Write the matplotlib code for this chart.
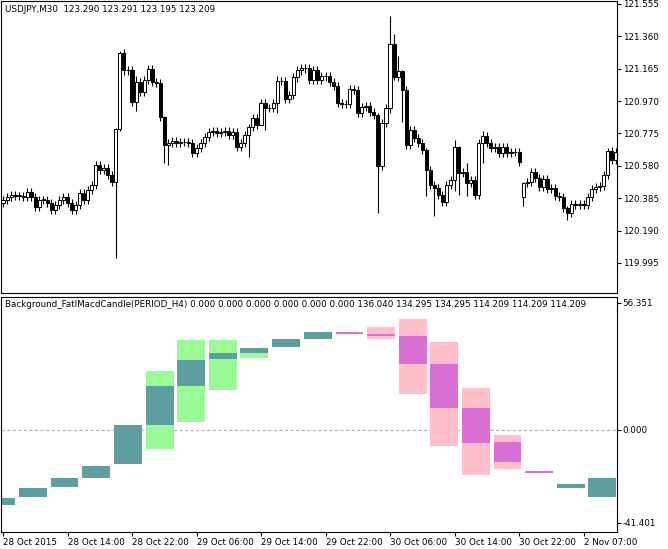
import matplotlib
matplotlib.use("Agg")
import matplotlib.pyplot as plt
from matplotlib.patches import Rectangle

closes = [120.375,120.393,120.405,120.399,120.399,120.393,120.423,120.393,
120.333,120.375,120.375,120.357,120.315,120.345,120.375,120.393,120.357,120.315,120.345,
120.417,120.375,120.435,120.465,120.585,120.555,120.567,120.525,120.483,
120.801,121.257,121.155,121.155,120.963,121.083,121.023,121.095,121.161,121.083,121.077,120.873,120.705,
120.717,120.729,120.717,120.723,120.723,120.717,120.657,120.687,120.717,120.753,120.783,120.789,
120.777,120.783,120.789,120.765,120.783,120.693,120.717,120.765,120.813,120.867,120.825,120.957,
120.927,120.927,120.957,121.089,121.089,120.981,121.005,121.113,121.155,121.167,121.167,121.095,121.155,121.095,121.119,121.119,
121.083,121.059,120.957,120.951,120.951,121.041,121.035,120.897,120.933,120.939,120.903,120.885,120.579,120.837,120.927,121.311,121.113,121.149,121.035,120.705,120.795,120.747,120.717,120.675,120.555,120.465,120.447,120.405,120.363,120.465,120.495,120.693,120.537,120.543,120.477,120.495,120.405,120.717,120.759,120.717,120.687,120.693,120.657,120.693,120.657,120.663,120.663,120.603,120.477,120.483,120.543,120.507,120.453,120.501,120.441,120.447,120.399,120.393,120.327,120.297,120.351,120.345,120.351,120.345,120.393,120.441,120.453,120.459,120.525,120.669,120.615,120.663]
first_open = 120.357
gap_opens = {129: 120.393}
extremes = {28: (120.81, 120.027), 29: (121.27, 120.79), 33: (121.12, 120.909), 40: (120.88, 120.60),
            41: (120.74, 120.585), 61: (120.83, 120.633), 64: (120.98, 120.85), 65: (120.98, 120.795),
            68: (121.12, 120.90), 93: (120.90, 120.297), 96: (121.485, 120.90), 97: (121.377, 121.10),
            98: (121.239, 121.09), 99: (121.16, 120.843), 105: (120.69, 120.40), 107: (120.49, 120.279),
            112: (120.735, 120.43), 113: (120.70, 120.405), 115: (120.60, 120.40), 119: (120.79, 120.60),
            129: (120.48, 120.339), 140: (120.34, 120.255), 150: (120.69, 120.50)}
default_wick = 0.025

price_ticks = [121.555, 121.360, 121.165, 120.970, 120.775, 120.580, 120.385, 120.190, 119.995]
time_labels = ["28 Oct 2015", "28 Oct 14:00", "28 Oct 22:00", "29 Oct 06:00", "29 Oct 14:00",
               "29 Oct 22:00", "30 Oct 06:00", "30 Oct 14:00", "30 Oct 22:00", "2 Nov 07:00"]
time_label_bars = [0, 16, 32, 48, 64, 80, 96, 112, 128, 144]

TEAL, GREEN, PINK, ORCHID = "#5F9EA0", "#98FB98", "#FFC0CB", "#DA70D6"
block_start = [-3.9, 3.97, 11.8, 19.7, 27.5, 35.4, 43.2, 51.1, 58.9, 66.8, 74.6, 82.5, 90.3,
               98.2, 106.0, 113.9, 121.7, 129.6, 137.4, 145.2]
body_hi = [-30.1,-25.8,-21.3,-15.9,2.3,19.6,30.8,34.3,36.5,40.3,43.4,43.4,42.5,41.6,29.1,9.7,-5.5,-18.4,-24.1,-21.5]
body_lo = [-33.4,-30.0,-25.6,-21.3,-15.3,2.3,19.6,31.3,34.3,36.9,40.3,42.6,41.6,29.1,9.7,-5.9,-14.1,-19.3,-25.8,-29.7]
range_hi = [None,None,None,None,None,26.1,39.9,39.9,34.3,None,None,None,45.5,49.4,39.0,18.7,-2.4,None,None,None]
range_lo = [None,None,None,None,None,-8.4,3.6,17.9,31.7,None,None,None,40.3,16.1,-7.2,-20.2,-17.6,None,None,None]
body_col = [TEAL]*11 + [ORCHID]*7 + [TEAL]*2
range_col = [None]*5 + [GREEN]*4 + [None]*3 + [PINK]*5 + [None]*3
macd_ticks = [56.351, 0.0, -41.401]
macd_tick_labels = ["56.351", "0.000", "-41.401"]

W, H = 668, 549
fig = plt.figure(figsize=(W/100, H/100), dpi=100)
plt.rcParams['font.family'] = ['DejaVu Sans']
fs = 6.3

def box(x0, y0, x1, y1):
    return [x0/W, 1-y1/H, (x1-x0)/W, (y1-y0)/H]

ax1 = fig.add_axes(box(1, 1, 617, 293))
ax2 = fig.add_axes(box(1, 297, 617, 532))
xl = (-0.5, 152.3)

prev = first_open
for i, c in enumerate(closes):
    o = gap_opens.get(i, prev)
    if i in extremes:
        hi, lo = extremes[i]
    else:
        hi, lo = max(o, c) + default_wick, min(o, c) - default_wick
    ax1.plot([i, i], [lo, hi], color="black", lw=0.8, solid_capstyle="butt", zorder=1)
    bot, ht = min(o, c), max(abs(c - o), 0.003)
    ax1.add_patch(Rectangle((i - 0.38, bot), 0.76, ht, facecolor="white" if c >= o else "black",
                            edgecolor="black", lw=0.7, zorder=2))
    prev = c
ax1.set_xlim(*xl)
ax1.set_ylim(119.814, 121.573)
ax1.yaxis.tick_right()
ax1.set_yticks(price_ticks)
ax1.set_yticklabels([f"{t:.3f}" for t in price_ticks], fontsize=fs)
ax1.set_xticks([])
ax1.tick_params(axis="y", length=3, pad=1)
ax1.text(4/616, 1-4/292, "USDJPY,M30  123.290 123.291 123.195 123.209", transform=ax1.transAxes,
         fontsize=fs, va="top", ha="left")

for i in range(len(body_hi)):
    x0 = block_start[i]
    if range_hi[i] is not None:
        ax2.add_patch(Rectangle((x0, range_lo[i]), 6.9, range_hi[i]-range_lo[i], facecolor=range_col[i], lw=0, zorder=1))
    ax2.add_patch(Rectangle((x0, body_lo[i]), 6.9, body_hi[i]-body_lo[i], facecolor=body_col[i], lw=0, zorder=2))
ax2.axhline(0, color="#B0B0B0", lw=0.8, ls=(0, (3, 2)), zorder=0)
ax2.set_xlim(*xl)
ax2.set_ylim(-45.4, 59.0)
ax2.yaxis.tick_right()
ax2.set_yticks(macd_ticks)
ax2.set_yticklabels(macd_tick_labels, fontsize=fs)
ax2.tick_params(axis="y", length=3, pad=1)
ax2.set_xticks(time_label_bars)
ax2.set_xticklabels(time_labels, fontsize=fs, ha="left")
ax2.tick_params(axis="x", length=3, pad=1)
ax2.text(4/616, 1-3/235, "Background_FatlMacdCandle(PERIOD_H4) 0.000 0.000 0.000 0.000 0.000 0.000 136.040 134.295 134.295 114.209 114.209 114.209",
         transform=ax2.transAxes, fontsize=fs, va="top", ha="left")
for a in (ax1, ax2):
    for s in a.spines.values():
        s.set_linewidth(0.8)

fig.savefig("out.png", dpi=100)
